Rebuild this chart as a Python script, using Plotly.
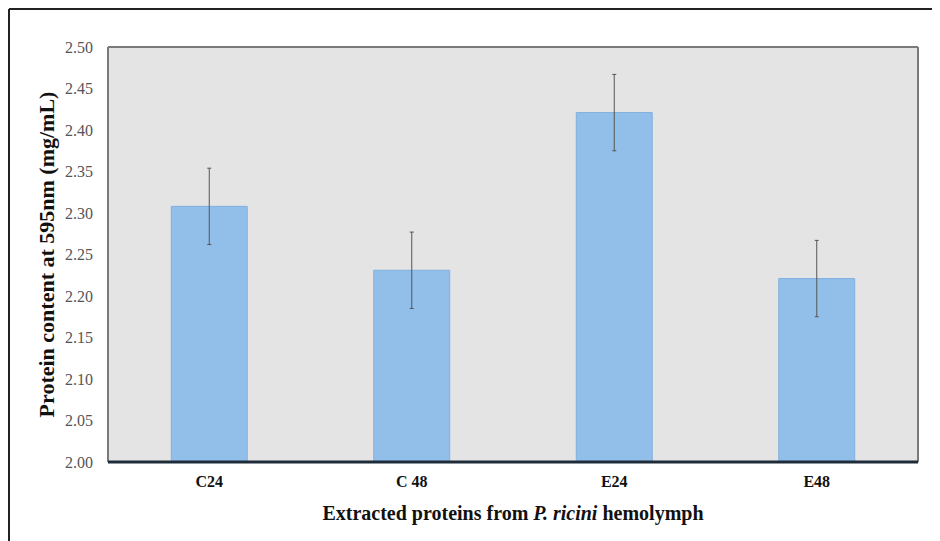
import plotly.graph_objects as go

categories = ["C24", "C 48", "E24", "E48"]
values = [2.308, 2.231, 2.421, 2.221]
errors = [0.046, 0.046, 0.046, 0.046]
y_ticks = [2.00, 2.05, 2.10, 2.15, 2.20, 2.25, 2.30, 2.35, 2.40, 2.45, 2.50]

W, H = 932, 533
L, R, T, B = 100, 22, 39, 79
PW, PH = W - L - R, H - T - B

fig = go.Figure()
fig.add_trace(go.Bar(
    x=categories, y=values,
    width=0.375,
    marker=dict(color="#92bfe9", line=dict(color="#7fb0df", width=1)),
    error_y=dict(type="data", array=errors, visible=True,
                 color="#555555", thickness=1, width=2),
))

fig.update_layout(
    width=W, height=H,
    margin=dict(l=L, r=R, t=T, b=B),
    paper_bgcolor="white",
    plot_bgcolor="#e5e4e4",
    font=dict(family="Liberation Serif, Times New Roman, serif", color="#333333"),
    showlegend=False,
    xaxis=dict(
        showgrid=False, showline=False, ticks="",
        ticklabelstandoff=8,
        tickfont=dict(size=16, color="#111111", weight="bold"),
        title=dict(text="<b>Extracted proteins from <i>P. ricini</i> hemolymph</b>",
                   font=dict(size=20, color="#111111"), standoff=16),
    ),
    yaxis=dict(
        range=[2.0, 2.5], tickvals=y_ticks,
        ticktext=[f"{v:.2f}" for v in y_ticks],
        showgrid=False, showline=False, ticks="", zeroline=False,
        ticklabelstandoff=14,
        tickfont=dict(size=16, color="#555555"),
        title=dict(text="<b>Protein content at 595nm (mg/mL)</b>",
                   font=dict(size=22, color="#111111"), standoff=4),
    ),
)
# plot frame: gray left/top/right, dark bottom axis
fig.add_shape(type="line", xref="paper", yref="paper", x0=0, x1=0, y0=0, y1=1,
              line=dict(color="#7a7a7a", width=2))
fig.add_shape(type="line", xref="paper", yref="paper", x0=0, x1=1, y0=1, y1=1,
              line=dict(color="#7a7a7a", width=2))
fig.add_shape(type="line", xref="paper", yref="paper", x0=1, x1=1, y0=0, y1=1,
              line=dict(color="#7a7a7a", width=2))
fig.add_shape(type="line", xref="paper", yref="paper", x0=0, x1=1, y0=0, y1=0,
              line=dict(color="#1e2b38", width=3))
# outer image frame (left and top lines)
fx = (1 - L) / PW
fy = 1 + (T - 1) / PH
fig.add_shape(type="line", xref="paper", yref="paper",
              x0=fx, x1=fx, y0=-B / PH, y1=fy,
              line=dict(color="#222222", width=2))
fig.add_shape(type="line", xref="paper", yref="paper",
              x0=fx, x1=1 + R / PW, y0=fy, y1=fy,
              line=dict(color="#222222", width=2))

fig.write_html("out.html")
